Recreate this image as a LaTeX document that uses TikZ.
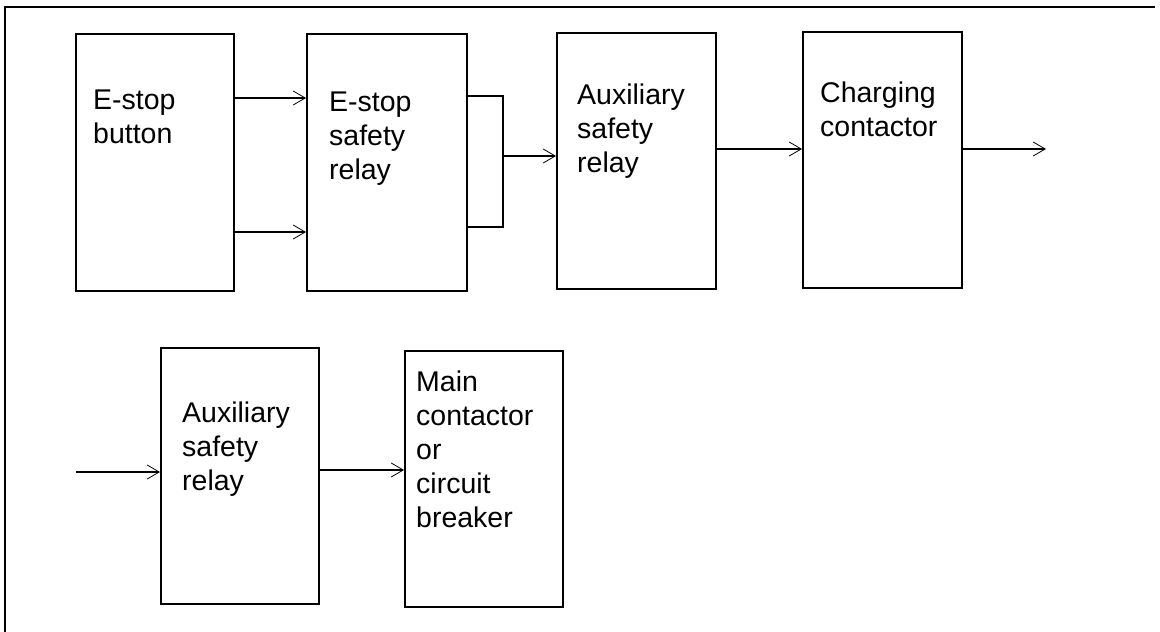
\documentclass[tikz,border=0pt]{standalone}
\usepackage{fontspec}
\setmainfont{Liberation Sans}
\usetikzlibrary{positioning,arrows.meta}

\tikzset{
  block/.style={draw=black, line width=2pt, rectangle, minimum width=158pt, minimum height=256pt, inner sep=0pt},
  blocktext/.style={inner sep=0pt, align=left, font=\fontsize{28.5}{34}\selectfont},
  conn/.style={line width=1.3pt, -{Straight Barb[length=12pt, width=14pt, line width=0.8pt]}},
  wire/.style={line width=1.3pt}
}

\begin{document}
\begin{tikzpicture}[x=1pt, y=-1pt]
\useasboundingbox (0,0) rectangle (1160,632);

% Cadre
\draw[line width=1.5pt] (5,632) -- (5,7) -- (1155,7);

% Blocs ligne 1
\node[block, minimum height=257pt] (b1) at (155,162.5) {};
\node[block, minimum width=160pt, minimum height=257pt] (b2) at (387,162.5) {};
\node[block, minimum width=159pt] (b3) at (636.5,161) {};
\node[block, minimum width=159pt] (b4) at (882.5,160) {};

% Blocs ligne 2
\node[block] (b5) at (240,476) {};
\node[block] (b6) at (484,479) {};

% Textes
\node[blocktext, below right=57pt and 18pt of b1.north west] (t1) {E-stop\\button};
\node[blocktext, below right=59pt and 23pt of b2.north west] (t2) {E-stop\\safety\\relay};
\node[blocktext, below right=52pt and 21pt of b3.north west] (t3) {Auxiliary\\safety\\relay};
\node[blocktext, below right=51pt and 18pt of b4.north west] (t4) {Charging\\contactor};
\node[blocktext, below right=55pt and 22pt of b5.north west] (t5) {Auxiliary\\safety\\relay};
\node[blocktext, below right=21pt and 12pt of b6.north west] (t6) {Main\\contactor\\or\\circuit\\breaker};

% Liaisons ligne 1
\draw[conn] ([yshift=64.5pt]b1.east) -- ([yshift=64.5pt]b1.east -| b2.west);
\draw[conn] ([yshift=-69.5pt]b1.east) -- ([yshift=-69.5pt]b1.east -| b2.west);
\coordinate (fork) at (503,156);
\draw[wire] ([yshift=66.5pt]b2.east) -| (fork) |- ([yshift=-64.5pt]b2.east);
\draw[conn] (fork) -- (fork -| b3.west);
\draw[conn] ([yshift=12pt]b3.east) -- ([yshift=12pt]b3.east -| b4.west);
\coordinate (out4) at (1046,149);
\draw[conn] (b4.east |- out4) -- (out4);

% Liaisons ligne 2
\coordinate (in5) at (76,472);
\draw[conn] (in5) -- (in5 -| b5.west);
\draw[conn] ([yshift=6pt]b5.east) -- ([yshift=6pt]b5.east -| b6.west);

\end{tikzpicture}
\end{document}
